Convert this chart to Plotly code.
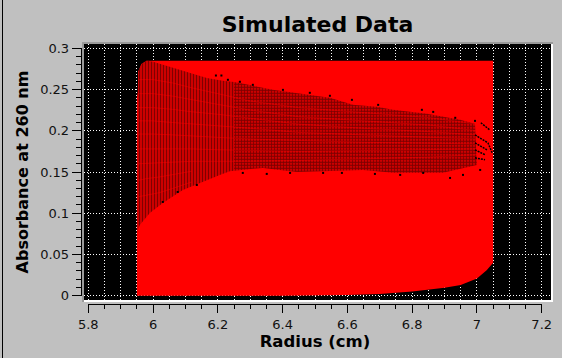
import plotly.graph_objects as go

W, H = 562, 358

# Solid red envelope of all simulated scans
env_x = [5.95, 6.4, 6.6, 6.7, 6.8, 6.9, 6.95, 7.0, 7.03, 7.05, 7.05, 5.98, 5.964, 5.954, 5.953, 5.95]
env_y = [0.0, 0.0, 0.001, 0.002, 0.005, 0.0097, 0.013, 0.021, 0.031, 0.04, 0.285, 0.285, 0.281, 0.2715, 0.247, 0.24]

# Moire zone where scans separate: left part (striped)
left_x = [5.953, 5.954, 5.964, 5.98, 6.0, 6.052, 6.104, 6.166, 6.215, 6.25,
          6.25, 6.237, 6.206, 6.154, 6.092, 6.03, 5.99, 5.959, 5.951]
left_y = [0.247, 0.2715, 0.281, 0.2848, 0.2836, 0.2776, 0.2715, 0.264, 0.2606, 0.259,
          0.1515, 0.151, 0.1465, 0.138, 0.1283, 0.1125, 0.1004, 0.0858, 0.0773]

# Moire zone: right part (dotted)
right_x = [6.25, 6.268, 6.37, 6.453, 6.546, 6.617, 6.691, 6.741, 6.846, 6.948, 6.994,
           7.0, 6.895, 6.741, 6.648, 6.444, 6.339, 6.25]
right_y = [0.259, 0.258, 0.2496, 0.2448, 0.24, 0.2314, 0.229, 0.2254, 0.2205, 0.2133, 0.2084,
           0.1586, 0.149, 0.149, 0.1525, 0.15, 0.155, 0.1515]

# Lighter bands crossing the moire zone (scan plateaus)
band_x = [5.955, 6.0, 6.06, 6.12, 6.2, 6.3, 6.45, 6.65, 6.85, 7.0]
band_y = [
    [0.262, 0.262, 0.258, 0.252, 0.245, 0.236, 0.228, 0.222, 0.216, 0.208],
    [0.245, 0.245, 0.242, 0.238, 0.232, 0.225, 0.217, 0.212, 0.207, 0.2],
    [0.228, 0.228, 0.226, 0.223, 0.22, 0.215, 0.208, 0.203, 0.199, 0.195],
    [0.212, 0.212, 0.21, 0.208, 0.206, 0.203, 0.198, 0.195, 0.192, 0.19],
    [0.196, 0.196, 0.195, 0.194, 0.192, 0.19, 0.188, 0.186, 0.185, 0.184],
    [0.178, 0.178, 0.178, 0.178, 0.177, 0.176, 0.175, 0.176, 0.177, 0.178],
    [0.16, 0.161, 0.162, 0.163, 0.163, 0.163, 0.164, 0.166, 0.168, 0.171],
]
low_band_x = [5.955, 5.98, 6.02, 6.06, 6.12]
low_band_y = [[0.14, 0.142, 0.144, 0.147, 0.151], [0.12, 0.122, 0.125, 0.13, 0.138]]

# Arcs near the outer edge
arc_x = [[7.012, 7.039], [6.994, 7.034, 7.047], [6.994, 7.031], [6.994, 7.025], [6.994, 7.025]]
arc_y = [[0.2097, 0.2012], [0.195, 0.1853, 0.1733], [0.1854, 0.1769], [0.1769, 0.1709], [0.1672, 0.1648]]

# Loose dark specks beyond the dense zone
speck_x = [6.194, 6.211, 6.231, 6.268, 6.308, 6.401, 6.484, 6.546, 6.614, 6.695, 6.83, 6.865, 6.933, 6.994,
           6.277, 6.351, 6.423, 6.525, 6.583, 6.685, 6.763, 6.834, 6.917, 6.957, 7.01, 6.03, 6.076, 6.135]
speck_y = [0.267, 0.267, 0.2618, 0.2594, 0.2557, 0.2496, 0.246, 0.2424, 0.2375, 0.2314, 0.2254, 0.2229, 0.2157, 0.212,
           0.1489, 0.1477, 0.1489, 0.1489, 0.1489, 0.1477, 0.1465, 0.1489, 0.1428, 0.1465, 0.1525, 0.1137, 0.1258, 0.1343]

title_text = "Simulated Data"
x_title = "Radius (cm)"
y_title = "Absorbance at 260 nm"
x_ticks = [5.8, 6.0, 6.2, 6.4, 6.6, 6.8, 7.0, 7.2]
x_labels = ["5.8", "6", "6.2", "6.4", "6.6", "6.8", "7", "7.2"]
y_ticks = [0, 0.05, 0.1, 0.15, 0.2, 0.25, 0.3]
y_labels = ["0", "0.05", "0.1", "0.15", "0.2", "0.25", "0.3"]

def fx(p): return p / W
def fy(p): return 1 - p / H

fig = go.Figure()
fig.add_trace(go.Scatter(x=env_x, y=env_y, fill="toself", fillcolor="#ff0000", mode="lines",
                         line=dict(width=0), hoverinfo="skip", showlegend=False))
fig.add_trace(go.Scatter(x=left_x, y=left_y, fill="toself", mode="lines", line=dict(width=0),
                         fillcolor="#ff0000",
                         fillpattern=dict(shape="|", size=3, solidity=0.6, fgcolor="#000000", bgcolor="#ff0000"),
                         hoverinfo="skip", showlegend=False))
fig.add_trace(go.Scatter(x=right_x, y=right_y, fill="toself", mode="lines", line=dict(width=0),
                         fillcolor="#ff0000",
                         fillpattern=dict(shape=".", size=3, solidity=0.7, fgcolor="#000000", bgcolor="#ff0000"),
                         hoverinfo="skip", showlegend=False))
for by in band_y:
    fig.add_trace(go.Scatter(x=band_x, y=by, mode="lines", line=dict(color="rgba(255,0,0,0.4)", width=1),
                             hoverinfo="skip", showlegend=False))
for by in low_band_y:
    fig.add_trace(go.Scatter(x=low_band_x, y=by, mode="lines", line=dict(color="rgba(255,0,0,0.4)", width=1),
                             hoverinfo="skip", showlegend=False))
for ax, ay in zip(arc_x, arc_y):
    fig.add_trace(go.Scatter(x=ax, y=ay, mode="lines", line=dict(color="#000000", width=1.5, dash="2px,1px"),
                             hoverinfo="skip", showlegend=False))
fig.add_trace(go.Scatter(x=speck_x, y=speck_y, mode="markers",
                         marker=dict(color="#000000", size=2, symbol="square"),
                         hoverinfo="skip", showlegend=False))
# Carries the offset tick axes
fig.add_trace(go.Scatter(x=[None], y=[None], xaxis="x2", yaxis="y2", mode="markers",
                         hoverinfo="skip", showlegend=False))

tick_font = dict(family="DejaVu Sans", size=13, color="#111111")
x_title_font = dict(family="DejaVu Sans", size=16.5, color="#000000", weight="bold")
y_title_font = dict(family="DejaVu Sans", size=16, color="#000000", weight="bold")
grid = dict(showgrid=True, gridcolor="#ffffff", gridwidth=1, griddash="1px,2px")

fig.update_layout(
    width=W, height=H, autosize=False,
    margin=dict(l=0, r=0, t=0, b=0, pad=0),
    paper_bgcolor="#c0c0c0", plot_bgcolor="rgba(0,0,0,0)",
    showlegend=False,
    title=dict(text=title_text, x=317.5 / W, xanchor="center", y=fy(24), yanchor="middle",
               font=dict(family="DejaVu Sans", size=22, color="#000000", weight="bold")),
    xaxis=dict(domain=[fx(84), fx(551)], range=[5.7867, 7.2287], anchor="y", automargin=False,
               showticklabels=False, ticks="", zeroline=False, showline=False,
               tick0=5.8, dtick=0.05, **grid),
    yaxis=dict(domain=[fy(300), fy(44)], range=[-0.0052, 0.3052], anchor="x", automargin=False,
               showticklabels=False, ticks="", zeroline=False, showline=False,
               tick0=0, dtick=0.05, **grid),
    xaxis2=dict(domain=[fx(88.3), fx(541.7)], range=[5.8, 7.2], anchor="free", position=fy(304), automargin=False,
                showgrid=False, zeroline=False, showline=True, linecolor="#000000", linewidth=1,
                tickmode="array", tickvals=x_ticks, ticktext=x_labels, ticks="outside", ticklen=8,
                tickcolor="#000000", tickwidth=1, tickfont=tick_font,
                minor=dict(tick0=5.8, dtick=0.05, ticks="outside", ticklen=4, tickcolor="#000000", tickwidth=1),
                title=dict(text=x_title, font=x_title_font, standoff=4)),
    yaxis2=dict(domain=[fy(295.7), fy(48.3)], range=[0, 0.3], anchor="free", position=fx(80.7), automargin=False,
                showgrid=False, zeroline=False, showline=True, linecolor="#000000", linewidth=1,
                tickmode="array", tickvals=y_ticks, ticktext=y_labels, ticks="outside", ticklen=9,
                tickcolor="#000000", tickwidth=1, tickfont=tick_font,
                minor=dict(tick0=0, dtick=0.01, ticks="outside", ticklen=5, tickcolor="#000000", tickwidth=1),
                title=dict(text=y_title, font=y_title_font, standoff=6)),
    shapes=[
        dict(type="rect", xref="paper", yref="paper", x0=fx(84), x1=fx(551), y0=fy(300), y1=fy(44),
             fillcolor="#000000", line=dict(width=0), layer="below"),
        dict(type="rect", xref="paper", yref="paper", x0=fx(82), x1=fx(553), y0=fy(302), y1=fy(300),
             fillcolor="#ffffff", line=dict(width=0), layer="below"),
        dict(type="rect", xref="paper", yref="paper", x0=fx(551), x1=fx(553), y0=fy(302), y1=fy(42),
             fillcolor="#ffffff", line=dict(width=0), layer="below"),
        dict(type="rect", xref="paper", yref="paper", x0=fx(82), x1=fx(553), y0=fy(44), y1=fy(42),
             fillcolor="#9a9a9a", line=dict(width=0), layer="below"),
        dict(type="rect", xref="paper", yref="paper", x0=fx(82), x1=fx(84), y0=fy(302), y1=fy(42),
             fillcolor="#9a9a9a", line=dict(width=0), layer="below"),
        dict(type="rect", xref="paper", yref="paper", x0=fx(2), x1=fx(3), y0=0, y1=1,
             fillcolor="#000000", line=dict(width=0), layer="below"),
    ],
)
fig.write_html("out.html", config=dict(displayModeBar=False),
               post_script="document.body.style.margin='0';document.body.style.overflow='hidden';document.body.style.background='#c0c0c0';")
